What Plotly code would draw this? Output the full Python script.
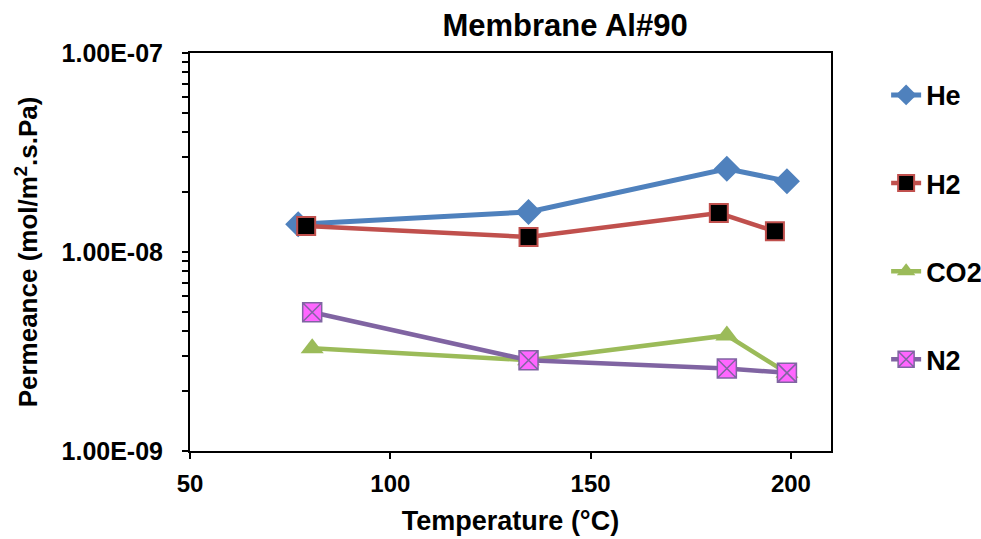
import plotly.graph_objects as go

# ---- data ----
he_temp = [77, 134.5, 184, 199]
he_perm = [1.38e-8, 1.59e-8, 2.62e-8, 2.27e-8]

h2_temp = [79, 134.5, 182, 196]
h2_perm = [1.35e-8, 1.19e-8, 1.57e-8, 1.27e-8]

co2_temp = [80.5, 134.5, 184, 199]
co2_perm = [3.28e-9, 2.86e-9, 3.81e-9, 2.47e-9]

n2_temp = [80.5, 134.5, 184, 199]
n2_perm = [4.98e-9, 2.86e-9, 2.60e-9, 2.47e-9]

x_tick_vals = [50, 100, 150, 200]
y_tick_vals = [1e-9, 1e-8, 1e-7]
y_tick_text = ["1.00E-09", "1.00E-08", "1.00E-07"]
y_minor_vals = [m * 10.0 ** e for e in (-9, -8) for m in range(2, 10)]

FONT = "Liberation Sans, Arial, sans-serif"

fig = go.Figure()

fig.add_trace(go.Scatter(
    x=he_temp, y=he_perm, name="He", mode="lines+markers", legendgroup="a",
    line=dict(color="#4F81BD", width=5),
    marker=dict(symbol="diamond", size=20, color="#4F81BD", line=dict(width=0)),
))
fig.add_trace(go.Scatter(
    x=h2_temp, y=h2_perm, name="H2", mode="lines+markers", legendgroup="b",
    line=dict(color="#C0504D", width=4.5),
    marker=dict(symbol="square", size=18, color="#000000", line=dict(color="#C0504D", width=2)),
))
fig.add_trace(go.Scatter(
    x=co2_temp, y=co2_perm, name="CO2", mode="lines+markers", legendgroup="c",
    line=dict(color="#9BBB59", width=4.5),
    marker=dict(symbol="triangle-up", size=20, color="#9BBB59", line=dict(width=0)),
))
fig.add_trace(go.Scatter(
    x=n2_temp, y=n2_perm, name="N2", mode="lines+markers", legendgroup="d",
    line=dict(color="#8064A2", width=4.5),
    marker=dict(symbol="square-x", size=19, color="#FF66FF", line=dict(color="#8064A2", width=1.5)),
))

fig.update_layout(
    width=981, height=539,
    paper_bgcolor="white", plot_bgcolor="white",
    margin=dict(l=190, r=150, t=53, b=88, autoexpand=False),
    font=dict(family=FONT, color="black", size=24, weight="bold"),
    title=dict(text="Membrane Al#90", x=0.576, xanchor="center", y=0.954, yanchor="middle",
               font=dict(size=31, family=FONT, color="black", weight="bold")),
    showlegend=True,
    legend=dict(x=1.086, xanchor="left", y=0.955, yanchor="top",
                font=dict(size=27, family=FONT, color="black", weight="bold"),
                tracegroupgap=50, bgcolor="rgba(0,0,0,0)"),
)
fig.update_xaxes(
    range=[50, 210], tickvals=x_tick_vals, ticks="outside", ticklen=6, tickwidth=2,
    tickcolor="black", showline=True, linecolor="black", linewidth=2, mirror=True,
    showgrid=False, zeroline=False,
    tickfont=dict(size=24, family=FONT, weight="bold"),
    ticklabelstandoff=4,
    title=dict(text="Temperature (°C)", font=dict(size=27, family=FONT, weight="bold"), standoff=15),
)
fig.update_yaxes(
    type="log", range=[-9, -7], tickvals=y_tick_vals, ticktext=y_tick_text,
    ticks="outside", ticklen=6, tickwidth=2, tickcolor="black",
    minor=dict(tickvals=y_minor_vals, ticks="outside", ticklen=6, tickwidth=2,
               tickcolor="black", showgrid=False),
    showline=True, linecolor="black", linewidth=2, mirror=True,
    showgrid=False, zeroline=False,
    tickfont=dict(size=25, family=FONT, weight="bold"),
    ticklabelstandoff=14,
    title=dict(text="Permeance (mol/m<sup>2</sup>.s.Pa)",
               font=dict(size=26, family=FONT, weight="bold"), standoff=16),
)

fig.write_html("out.html",
               config={"displayModeBar": False},
               post_script="document.body.style.margin='0';document.body.style.padding='0';document.body.style.overflow='hidden';")
